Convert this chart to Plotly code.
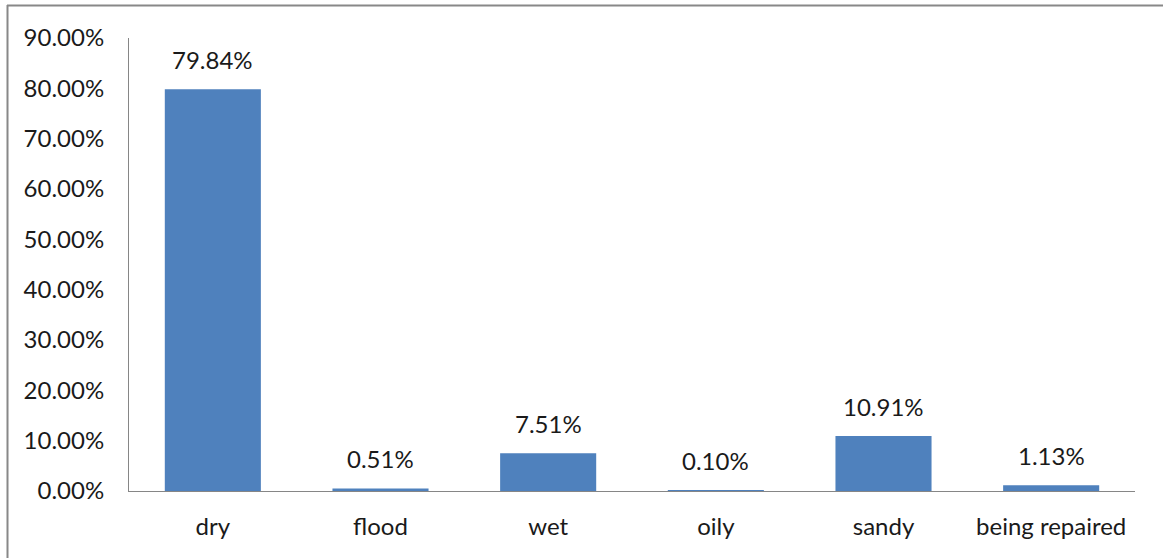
import plotly.graph_objects as go

categories = ["dry", "flood", "wet", "oily", "sandy", "being repaired"]
values = [0.7984, 0.0051, 0.0751, 0.0010, 0.1091, 0.0113]
tick_vals = [i / 10 for i in range(10)]
tick_text = [f"{v*100:.2f}%" for v in tick_vals]

FONT = "Lato"
FS = 24
W, H = 1163, 558
L, R, T, B = 129, 28, 38, 67
pw, ph = W - L - R, H - T - B

fig = go.Figure()
fig.add_trace(go.Bar(
    x=categories, y=values, marker_color="#4F81BD", marker_line_width=0,
    width=0.573, hoverinfo="skip",
))

for c, v in zip(categories, values):
    fig.add_annotation(x=c, y=v, text=f"{v*100:.2f}%", showarrow=False,
                       yanchor="middle", yshift=30,
                       font=dict(family=FONT, size=FS, color="#1a1a1a"))

def px_x(p):
    return (p - L) / pw

def px_y(p):
    return (H - B - p) / ph

line = dict(color="#888888", width=2)
fig.add_shape(type="line", xref="paper", yref="paper",
              x0=px_x(7), x1=px_x(W + 5), y0=px_y(5.5), y1=px_y(5.5), line=line)
fig.add_shape(type="line", xref="paper", yref="paper",
              x0=px_x(7.5), x1=px_x(7.5), y0=px_y(5), y1=px_y(H + 5), line=line)

fig.update_layout(
    width=W, height=H, margin=dict(l=L, r=R, t=T, b=B),
    paper_bgcolor="white", plot_bgcolor="white", showlegend=False,
    font=dict(family=FONT, size=FS, color="#1a1a1a"),
    bargap=0.427,
    xaxis=dict(showline=True, linecolor="#868686", linewidth=1, ticks="",
               showgrid=False, tickfont=dict(size=FS), ticklabelstandoff=14),
    yaxis=dict(range=[0, 0.9], tickvals=tick_vals, ticktext=tick_text,
               showline=True, linecolor="#868686", linewidth=1, ticks="",
               showgrid=False, zeroline=False, tickfont=dict(size=FS),
               ticklabelstandoff=19),
)
fig.write_html("out.html")
